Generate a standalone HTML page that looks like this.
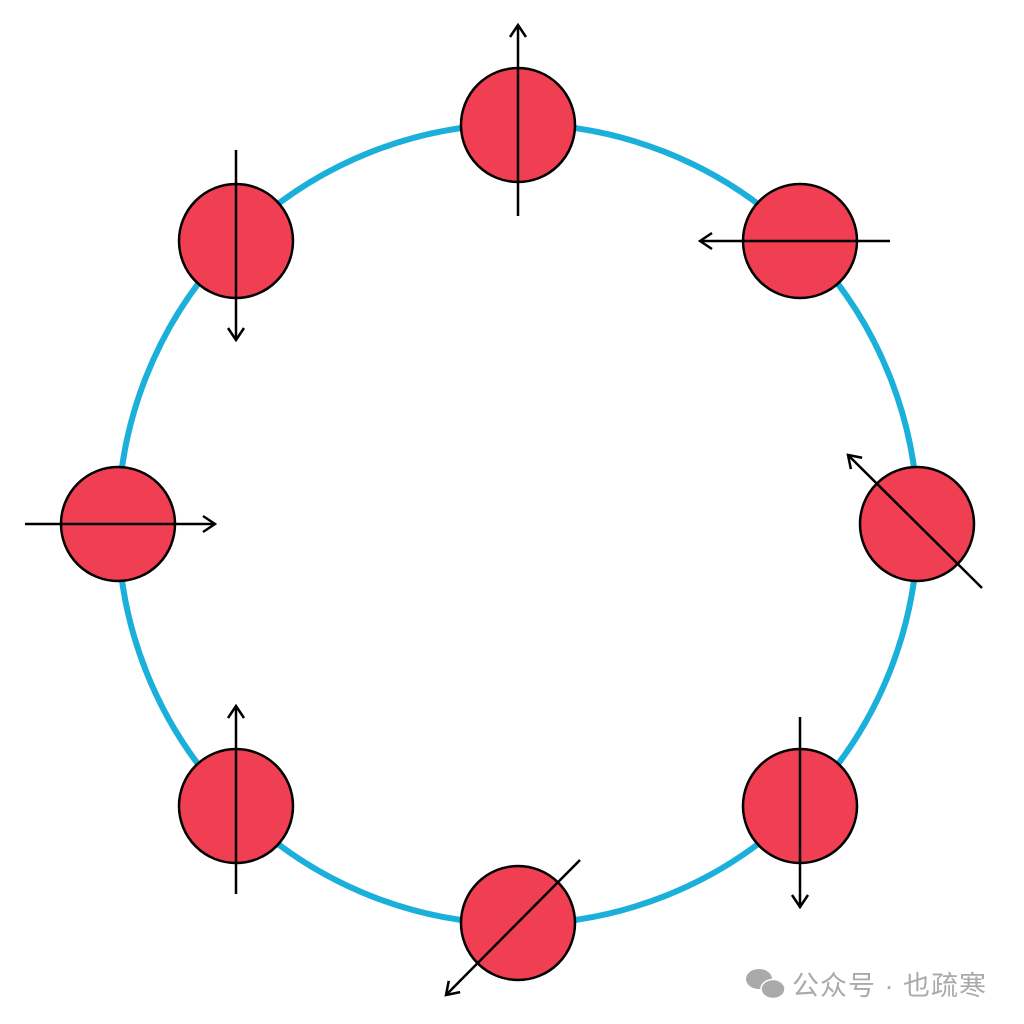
<!DOCTYPE html>
<html><head><meta charset="utf-8"><style>
html,body{margin:0;padding:0;background:#fff;width:1024px;height:1024px;overflow:hidden}
</style></head><body>
<svg width="1024" height="1024" viewBox="0 0 1024 1024" xmlns="http://www.w3.org/2000/svg">
<defs>
<marker id="a" viewBox="0 0 20 20" refX="18" refY="10" markerWidth="20" markerHeight="20" markerUnits="userSpaceOnUse" orient="auto">
<path d="M6 2 L18 10 L6 18" fill="none" stroke="#000" stroke-width="2.5"/>
</marker>
</defs>
<circle cx="518" cy="524" r="400" fill="none" stroke="#1bb0da" stroke-width="6"/>
<g fill="#f03e52" stroke="#000" stroke-width="2.5">
<circle cx="518" cy="125" r="57"/>
<circle cx="800" cy="241" r="57"/>
<circle cx="917" cy="524" r="57"/>
<circle cx="800" cy="806" r="57"/>
<circle cx="518" cy="923" r="57"/>
<circle cx="236" cy="806" r="57"/>
<circle cx="118" cy="524" r="57"/>
<circle cx="236" cy="241" r="57"/>
</g>
<g stroke="#000" stroke-width="2.5" fill="none" marker-end="url(#a)">
<line x1="518" y1="216" x2="518" y2="25"/>
<line x1="890" y1="241" x2="700" y2="241"/>
<line x1="982" y1="588" x2="848" y2="455"/>
<line x1="800" y1="717" x2="800" y2="907"/>
<line x1="580" y1="860" x2="446" y2="995"/>
<line x1="236" y1="894" x2="236" y2="706"/>
<line x1="25" y1="524" x2="215" y2="524"/>
<line x1="236" y1="150" x2="236" y2="340"/>
</g>
<g fill="#aaa">
<ellipse cx="759" cy="979" rx="13" ry="10"/>
<ellipse cx="773" cy="989" rx="12" ry="9.5" stroke="#fff" stroke-width="1.5"/>
</g>
<text x="792" y="995" font-family="Liberation Sans, Noto Sans CJK SC, sans-serif" font-size="27" fill="#aaa" letter-spacing="1">公众号 · 也疏寒</text>
</svg>
</body></html>
